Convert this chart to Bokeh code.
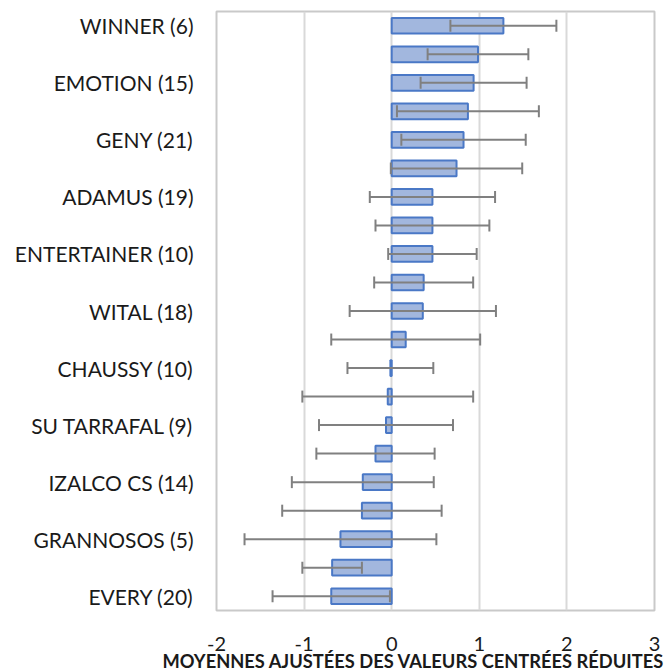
from bokeh.plotting import figure
from bokeh.models import Range1d, FixedTicker, Title, ColumnDataSource
from bokeh.embed import file_html
from bokeh.resources import INLINE

categories = ["WINNER (6)", "", "EMOTION (15)", "", "GENY (21)", "", "ADAMUS (19)", "",
              "ENTERTAINER (10)", "", "WITAL (18)", "", "CHAUSSY (10)", "", "SU TARRAFAL (9)", "",
              "IZALCO CS (14)", "", "GRANNOSOS (5)", "", "EVERY (20)"]
means = [1.275, 0.985, 0.935, 0.87, 0.82, 0.74, 0.465, 0.465, 0.465, 0.365, 0.355,
         0.16, -0.015, -0.045, -0.065, -0.185, -0.33, -0.34, -0.585, -0.68, -0.69]
errors = [0.605, 0.575, 0.605, 0.81, 0.71, 0.75, 0.715, 0.65, 0.505, 0.565, 0.835,
          0.85, 0.49, 0.975, 0.765, 0.675, 0.81, 0.91, 1.095, 0.34, 0.67]
x_ticks = [-2, -1, 0, 1, 2, 3]
x_tick_labels = ["-2", "-1", "0", "1", "2", "3"]
x_title = "MOYENNES AJUSTÉES DES VALEURS CENTRÉES RÉDUITES"

pos = list(range(len(categories)))
lower = [m - e for m, e in zip(means, errors)]
upper = [m + e for m, e in zip(means, errors)]
src = ColumnDataSource(dict(y=pos, m=means, lo=lower, hi=upper,
                            yc0=[p - 0.21 for p in pos], yc1=[p + 0.21 for p in pos]))

p = figure(width=668, height=671, output_backend="svg", toolbar_location=None,
           x_range=Range1d(-2, 3), y_range=Range1d(len(categories) - 0.5, -0.5),
           min_border_left=216, min_border_right=14, min_border_top=11, min_border_bottom=61)
p.background_fill_color = "white"
p.border_fill_color = "white"
p.outline_line_color = "#c9c9c9"
p.outline_line_width = 2

p.hbar(y="y", left=0, right="m", height=0.55, source=src,
       fill_color="#a2b7de", line_color="#4a78c6", line_width=2)
p.segment(x0="lo", x1="hi", y0="y", y1="y", source=src, line_color="#808080", line_width=2)
p.segment(x0="lo", x1="lo", y0="yc0", y1="yc1", source=src, line_color="#808080", line_width=2)
p.segment(x0="hi", x1="hi", y0="yc0", y1="yc1", source=src, line_color="#808080", line_width=2)

p.xaxis.ticker = FixedTicker(ticks=x_ticks)
p.xaxis.major_label_overrides = dict(zip(x_ticks, x_tick_labels))
p.xaxis.axis_line_color = None
p.xaxis.major_tick_line_color = None
p.xaxis.minor_tick_line_color = None
p.xaxis.major_tick_out = 0
p.xaxis.major_tick_in = 0
p.xaxis.minor_tick_out = 0
p.xaxis.major_label_standoff = 26
p.xaxis.major_label_text_font = "Lato"
p.xaxis.major_label_text_font_size = "20px"
p.xaxis.major_label_text_color = "#1a1a1a"

label_idx = [i for i, c in enumerate(categories) if c]
p.yaxis.ticker = FixedTicker(ticks=label_idx)
p.yaxis.major_label_overrides = {i: categories[i] for i in label_idx}
p.yaxis.axis_line_color = None
p.yaxis.major_tick_line_color = None
p.yaxis.minor_tick_line_color = None
p.yaxis.major_tick_out = 0
p.yaxis.major_tick_in = 0
p.yaxis.minor_tick_out = 0
p.yaxis.major_label_standoff = 23
p.yaxis.major_label_text_font = "Lato"
p.yaxis.major_label_text_font_size = "21px"
p.yaxis.major_label_text_color = "#1a1a1a"

p.ygrid.grid_line_color = None
p.xgrid.ticker = FixedTicker(ticks=x_ticks)
p.xgrid.grid_line_color = "#d9d9d9"
p.xgrid.grid_line_width = 2

t = Title(text=x_title, align="left", offset=-54, standoff=-12,
          text_font="Lato", text_font_style="bold", text_font_size="18.3px",
          text_color="#1a1a1a")
p.add_layout(t, "below")

open("out.html", "w").write(file_html(p, INLINE))
